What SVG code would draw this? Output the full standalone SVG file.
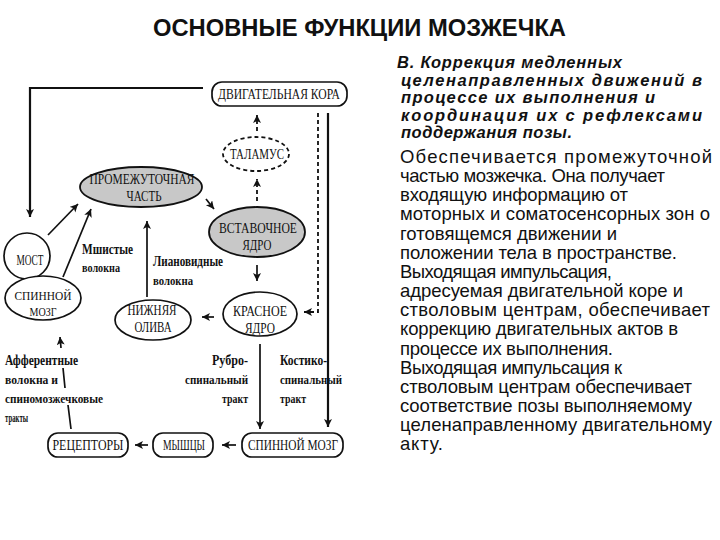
<svg xmlns="http://www.w3.org/2000/svg" width="720" height="540" viewBox="0 0 720 540">
<style>
.bg{fill:#fff}
.title{font-family:"Liberation Sans",Arial,sans-serif;font-weight:bold;font-size:24px;fill:#111}
.bi{font-family:"Liberation Sans",Arial,sans-serif;font-weight:bold;font-style:italic;font-size:16.5px;fill:#111}
.rg{font-family:"Liberation Sans",Arial,sans-serif;font-size:18.5px;fill:#111}
.nt{font-family:"Liberation Serif","Times New Roman",serif;font-size:15.5px;fill:#111;text-anchor:middle}
.nts{font-family:"Liberation Serif","Times New Roman",serif;font-size:13.5px;fill:#111;text-anchor:middle}
.lb{font-family:"Liberation Serif","Times New Roman",serif;font-size:14px;fill:#111;font-weight:bold}
.ls{font-family:"Liberation Serif","Times New Roman",serif;font-size:11.5px;fill:#111;font-weight:bold}
.node{fill:#fff;stroke:#111;stroke-width:1.7}
.gray{fill:#c8c8c8;stroke:#111;stroke-width:1.8}
.dash{fill:#fff;stroke:#111;stroke-width:1.8;stroke-dasharray:4 3}
.ln{fill:none;stroke:#111;stroke-width:1.7}
.lnd{fill:none;stroke:#111;stroke-width:1.8;stroke-dasharray:4 3}
.thick{fill:none;stroke:#111;stroke-width:2.2}
</style>
<defs>
<marker id="ah" markerUnits="userSpaceOnUse" markerWidth="10" markerHeight="10" refX="8" refY="4" orient="auto">
<path d="M0,0 L8,4 L0,8 L2,4 z" fill="#111"/>
</marker>
</defs>
<rect class="bg" x="0" y="0" width="720" height="540"/>

<text class="title" x="153" y="36" textLength="413" lengthAdjust="spacingAndGlyphs">ОСНОВНЫЕ ФУНКЦИИ МОЗЖЕЧКА</text>

<g id="connectors">
<path class="thick" d="M203,88 H30 V217" marker-end="url(#ah)"/>
<path class="thick" d="M328,113 V427" marker-end="url(#ah)"/>
<path class="lnd" d="M318,113 V312 H304" marker-end="url(#ah)"/>
<path class="lnd" d="M257,131 V115" marker-end="url(#ah)"/>
<path class="lnd" d="M257,201 V179" marker-end="url(#ah)"/>
<path class="ln" d="M206,199 L214,209" marker-end="url(#ah)"/>
<path class="ln" d="M257,265 V281" marker-end="url(#ah)"/>
<path class="ln" d="M214,317 H202" marker-end="url(#ah)"/>
<path class="ln" d="M147,297 V221" marker-end="url(#ah)"/>
<path class="ln" d="M48,235 L78,204" marker-end="url(#ah)"/>
<path class="ln" d="M63,277 L91,209" marker-end="url(#ah)"/>
<path class="ln" d="M71,429 L68,405 M65,388 L63,368"/>
<path class="ln" d="M61,348 L60,337" marker-end="url(#ah)"/>
<path class="ln" d="M260,344 V429" marker-end="url(#ah)"/>
<path class="ln" d="M148,445 H135" marker-end="url(#ah)"/>
<path class="ln" d="M236,445 H222" marker-end="url(#ah)"/>
</g>

<g id="motor-cortex">
<rect class="node" x="212" y="82" width="135" height="24" rx="10"/>
<text class="nt" x="279" y="99" textLength="122" lengthAdjust="spacingAndGlyphs">ДВИГАТЕЛЬНАЯ КОРА</text>
</g>
<g id="thalamus">
<ellipse class="dash" cx="256" cy="154" rx="33" ry="17"/>
<text class="nt" x="257" y="159" textLength="54" lengthAdjust="spacingAndGlyphs">ТАЛАМУС</text>
</g>
<g id="intermediate">
<ellipse class="gray" cx="141" cy="187" rx="61" ry="20"/>
<text class="nt" x="142" y="184" textLength="105" lengthAdjust="spacingAndGlyphs">ПРОМЕЖУТОЧНАЯ</text>
<text class="nt" x="144" y="201" textLength="35" lengthAdjust="spacingAndGlyphs">ЧАСТЬ</text>
</g>
<g id="interposed">
<ellipse class="gray" cx="257" cy="232" rx="48" ry="25" stroke-width="2.2"/>
<text class="nt" x="258" y="233" textLength="78" lengthAdjust="spacingAndGlyphs">ВСТАВОЧНОЕ</text>
<text class="nt" x="257" y="250" textLength="29" lengthAdjust="spacingAndGlyphs">ЯДРО</text>
</g>
<g id="red-nucleus">
<ellipse class="node" cx="260" cy="314" rx="37" ry="22"/>
<text class="nt" x="260" y="316" textLength="54" lengthAdjust="spacingAndGlyphs">КРАСНОЕ</text>
<text class="nt" x="260" y="333" textLength="30" lengthAdjust="spacingAndGlyphs">ЯДРО</text>
</g>
<g id="olive">
<ellipse class="node" cx="153" cy="320" rx="38" ry="20"/>
<text class="nt" x="152" y="315" textLength="49" lengthAdjust="spacingAndGlyphs">НИЖНЯЯ</text>
<text class="nt" x="153" y="332" textLength="37" lengthAdjust="spacingAndGlyphs">ОЛИВА</text>
</g>
<g id="pons">
<circle class="node" cx="27" cy="256" r="23"/>
<text class="nt" x="30" y="265" textLength="27" lengthAdjust="spacingAndGlyphs">МОСТ</text>
</g>
<g id="spinal-cord-left">
<ellipse class="node" cx="43" cy="298" rx="38" ry="22"/>
<text class="nts" x="43" y="300" textLength="57" lengthAdjust="spacingAndGlyphs">СПИННОЙ</text>
<text class="nts" x="43" y="316" textLength="27" lengthAdjust="spacingAndGlyphs">МОЗГ</text>
</g>
<g id="receptors">
<rect class="node" x="48" y="433" width="80" height="24" rx="10"/>
<text class="nt" x="88" y="450" textLength="71" lengthAdjust="spacingAndGlyphs">РЕЦЕПТОРЫ</text>
</g>
<g id="muscles">
<rect class="node" x="153" y="433" width="60" height="24" rx="10"/>
<text class="nt" x="184" y="450" textLength="42" lengthAdjust="spacingAndGlyphs">МЫШЦЫ</text>
</g>
<g id="spinal-cord-bottom">
<rect class="node" x="242" y="433" width="101" height="24" rx="10"/>
<text class="nt" x="293" y="450" textLength="90" lengthAdjust="spacingAndGlyphs">СПИННОЙ МОЗГ</text>
</g>

<g id="labels">
<text class="lb" x="82" y="254" textLength="51" lengthAdjust="spacingAndGlyphs">Мшистые</text>
<text class="ls" x="82" y="272" textLength="38" lengthAdjust="spacingAndGlyphs">волокна</text>
<text class="lb" x="153" y="266" textLength="70" lengthAdjust="spacingAndGlyphs">Лиановидные</text>
<text class="ls" x="153" y="285" textLength="40" lengthAdjust="spacingAndGlyphs">волокна</text>
<text class="lb" x="5" y="365" textLength="73" lengthAdjust="spacingAndGlyphs">Афферентные</text>
<text class="ls" x="5" y="384" textLength="53" lengthAdjust="spacingAndGlyphs">волокна и</text>
<text class="ls" x="5" y="403" textLength="98" lengthAdjust="spacingAndGlyphs">спиномозжечковые</text>
<text class="ls" x="5" y="422" textLength="23" lengthAdjust="spacingAndGlyphs">тракты</text>
<text class="lb" x="212" y="365" textLength="36" lengthAdjust="spacingAndGlyphs">Рубро-</text>
<text class="ls" x="185" y="384" textLength="63" lengthAdjust="spacingAndGlyphs">спинальный</text>
<text class="ls" x="222" y="403" textLength="26" lengthAdjust="spacingAndGlyphs">тракт</text>
<text class="lb" x="280" y="365" textLength="47" lengthAdjust="spacingAndGlyphs">Костико-</text>
<text class="ls" x="280" y="384" textLength="62" lengthAdjust="spacingAndGlyphs">спинальный</text>
<text class="ls" x="280" y="403" textLength="26" lengthAdjust="spacingAndGlyphs">тракт</text>
</g>

<g id="description">
<text class="bi" x="397" y="68" textLength="225">В. Коррекция медленных</text>
<text class="bi" x="401" y="85.5" textLength="301">целенаправленных движений в</text>
<text class="bi" x="401" y="103" textLength="254">процессе их выполнения и</text>
<text class="bi" x="401" y="120.5" textLength="301">координация их с рефлексами</text>
<text class="bi" x="401" y="138" textLength="171">поддержания позы.</text>
<text class="rg" x="400" y="163" textLength="312">Обеспечивается промежуточной</text>
<text class="rg" x="400" y="182" textLength="265">частью мозжечка. Она получает</text>
<text class="rg" x="400" y="201" textLength="228">входящую информацию от</text>
<text class="rg" x="400" y="220" textLength="310">моторных и соматосенсорных зон о</text>
<text class="rg" x="400" y="239.5" textLength="217">готовящемся движении и</text>
<text class="rg" x="400" y="258.5" textLength="277">положении тела в пространстве.</text>
<text class="rg" x="400" y="278" textLength="212">Выходящая импульсация,</text>
<text class="rg" x="400" y="297" textLength="283">адресуемая двигательной коре и</text>
<text class="rg" x="400" y="316" textLength="310">стволовым центрам, обеспечивает</text>
<text class="rg" x="400" y="335" textLength="278">коррекцию двигательных актов в</text>
<text class="rg" x="400" y="354.5" textLength="213">процессе их выполнения.</text>
<text class="rg" x="400" y="373.5" textLength="222">Выходящая импульсация к</text>
<text class="rg" x="400" y="393" textLength="292">стволовым центрам обеспечивает</text>
<text class="rg" x="400" y="412" textLength="292">соответствие позы выполняемому</text>
<text class="rg" x="400" y="431" textLength="312">целенаправленному двигательному</text>
<text class="rg" x="400" y="450" textLength="43">акту.</text>
</g>
</svg>
